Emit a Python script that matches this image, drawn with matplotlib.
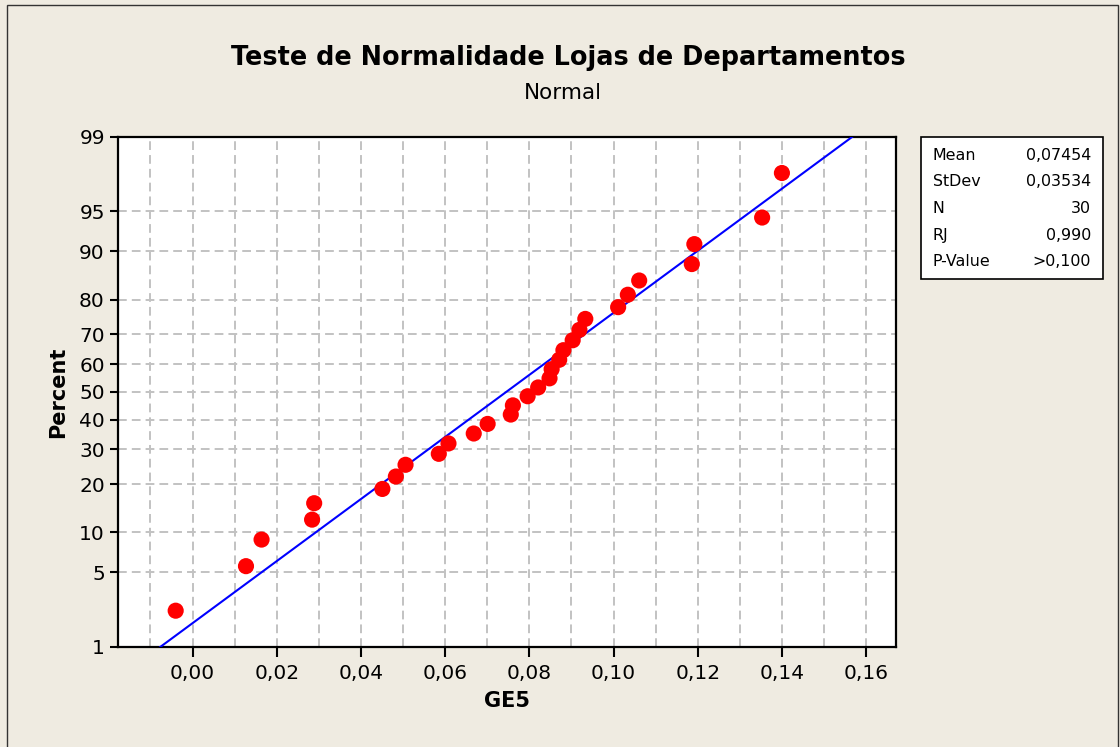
import matplotlib
matplotlib.use("Agg")
import matplotlib.pyplot as plt
from matplotlib.patches import Rectangle
from matplotlib.ticker import FixedLocator, FuncFormatter
from statistics import NormalDist

# ---------------------------------------------------------------------------
# data
# ---------------------------------------------------------------------------
ge5 = [-0.0040, 0.0127, 0.0164, 0.0284, 0.0289,
       0.0451, 0.0483, 0.0506, 0.0585, 0.0608,
       0.0668, 0.0701, 0.0756, 0.0761, 0.0796,
       0.0821, 0.0848, 0.0853, 0.0871, 0.0881,
       0.0903, 0.0919, 0.0933, 0.1011, 0.1034,
       0.1061, 0.1186, 0.1192, 0.1353, 0.1400]
percent = [2.3, 5.6, 8.9, 12.2, 15.5,
           18.8, 22.0, 25.3, 28.6, 31.9,
           35.2, 38.5, 41.8, 45.1, 48.4,
           51.6, 54.9, 58.2, 61.5, 64.8,
           68.1, 71.4, 74.7, 78.0, 81.2,
           84.5, 87.8, 91.1, 94.4, 97.7]
fit_mean = 0.07454
fit_stdev = 0.03534
y_ticks = [1, 5, 10, 20, 30, 40, 50, 60, 70, 80, 90, 95, 99]
x_ticks = [0.00, 0.02, 0.04, 0.06, 0.08, 0.10, 0.12, 0.14, 0.16]
stats_labels = ["Mean", "StDev", "N", "RJ", "P-Value"]
stats_values = ["0,07454", "0,03534", "30", "0,990", ">0,100"]

TITLE = "Teste de Normalidade Lojas de Departamentos"
SUBTITLE = "Normal"

BG = "#EFEBE1"
FONT = "DejaVu Sans"
W, H = 1120, 747

nd = NormalDist()


def z(p):
    return nd.inv_cdf(p / 100.0)


def px(x, y):
    """pixel position -> figure fraction"""
    return x / W, 1 - y / H


plt.rcParams["font.family"] = FONT

fig = plt.figure(figsize=(W / 100, H / 100), dpi=100, facecolor=BG)
l, t, r, b = 118, 136.7, 896, 647
ax = fig.add_axes([l / W, 1 - b / H, (r - l) / W, (b - t) / H])
ax.set_facecolor("white")

# grid: every 0.01 on x, every labelled percent on y
grid_kw = dict(color="#C2C2C2", linewidth=1.4, dashes=(4.5, 2.6))
for gx in [i / 100 for i in range(-1, 17)]:
    ax.axvline(gx, zorder=1, **grid_kw)
for gy in y_ticks[1:-1]:
    ax.axhline(z(gy), zorder=1, **grid_kw)

# fitted normal line
ax.plot([fit_mean + z(1) * fit_stdev, fit_mean + z(99) * fit_stdev],
        [z(1), z(99)], color="#0000FF", linewidth=1.5, zorder=3)

# points
ax.scatter(ge5, [z(p) for p in percent], s=135, color="#FF0000",
           edgecolors="none", zorder=4)

ax.set_xlim(-0.0177, 0.1671)
ax.set_ylim(z(1), z(99))
ax.xaxis.set_major_locator(FixedLocator(x_ticks))
ax.xaxis.set_major_formatter(FuncFormatter(lambda v, _: f"{v:.2f}".replace(".", ",")))
ax.yaxis.set_major_locator(FixedLocator([z(p) for p in y_ticks]))
ax.set_yticklabels([str(p) for p in y_ticks])
ax.tick_params(axis="both", direction="out", width=1.5,
               labelsize=14.5, colors="black")
ax.tick_params(axis="y", length=5.5, pad=4)
ax.tick_params(axis="x", length=7, pad=5)
for s in ax.spines.values():
    s.set_linewidth(1.6)
    s.set_color("black")

ax.set_xlabel("GE5", fontsize=15, fontweight="bold", labelpad=6)
ax.set_ylabel("Percent", fontsize=15, fontweight="bold", labelpad=8)

# titles
fig.text(*px(568, 58), TITLE, fontsize=18.4, fontweight="bold",
         ha="center", va="center")
fig.text(*px(563, 93), SUBTITLE, fontsize=15.5, ha="center", va="center")

# statistics box
bx0, by0, bx1, by1 = 920.7, 136.7, 1102.7, 279.3
fig.patches.append(Rectangle(px(bx0, by1), (bx1 - bx0) / W, (by1 - by0) / H,
                             transform=fig.transFigure, facecolor="white",
                             edgecolor="black", linewidth=1.2))
for i, (lab, val) in enumerate(zip(stats_labels, stats_values)):
    yy = 155 + i * 26.7
    fig.text(*px(933, yy), lab, fontsize=11.4, ha="left", va="center")
    fig.text(*px(1091, yy), val, fontsize=11.4, ha="right", va="center")

# outer border
fig.patches.append(Rectangle(px(7, 760), (1118 - 7) / W, (760 - 5) / H,
                             transform=fig.transFigure, facecolor="none",
                             edgecolor="#333333", linewidth=1.0))

fig.savefig("out.png", dpi=100, facecolor=BG)
